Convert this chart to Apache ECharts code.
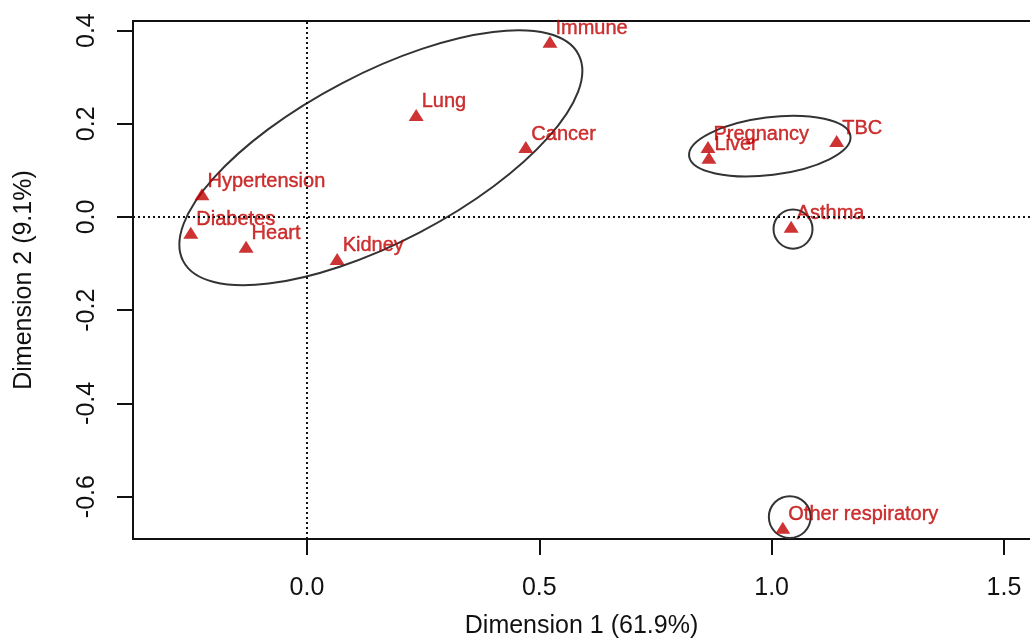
<!DOCTYPE html>
<html>
<head>
<meta charset="utf-8">
<script src="https://cdn.jsdelivr.net/npm/echarts@6/dist/echarts.min.js"></script>
<style>
html,body{margin:0;padding:0;background:#fff;}
#chart{width:1030px;height:641px;}
</style>
</head>
<body>
<div id="chart"></div>
<script>
// Category labels and coordinates (Dimension 1, Dimension 2)
const names = ['Immune','Lung','Cancer','Hypertension','Diabetes','Heart','Kidney','Pregnancy','Liver','TBC','Asthma','Other respiratory'];
const dim1  = [0.523, 0.235, 0.471, -0.226, -0.250, -0.131, 0.065, 0.863, 0.865, 1.140, 1.042, 1.024];
const dim2  = [0.376, 0.219, 0.150, 0.049, -0.034, -0.064, -0.090, 0.150, 0.127, 0.163, -0.021, -0.667];

// Cluster ellipses (centre, semi-axes in Dimension-1 units, tilt in degrees)
const ellCx    = [0.159, 0.996, 1.046, 1.039];
const ellCy    = [0.127, 0.152, -0.026, -0.644];
const ellA     = [0.480, 0.175, 0.042, 0.045];
const ellB     = [0.181, 0.062, 0.042, 0.045];
const ellAngle = [27.6, 7.1, 0, 0];

// Tick values
const xTicks = [0.0, 0.5, 1.0, 1.5];
const yTicks = [-0.6, -0.4, -0.2, 0.0, 0.2, 0.4];

const FONT = 'Liberation Sans, Arial, sans-serif';
const RED = '#c00000';

const points = names.map((n, i) => ({ name: n, value: [dim1[i], dim2[i]] }));
const ellipses = ellCx.map((c, i) => [c, ellCy[i], ellA[i], ellB[i], ellAngle[i]]);

const chart = echarts.init(document.getElementById('chart'), null, { renderer: 'canvas' });
const xMin = -0.3744, xMax = 1.556, yMin = -0.691, yMax = 0.4206;

chart.setOption({
  animation: false,
  backgroundColor: '#fff',
  grid: { left: 133, right: 0, top: 21, bottom: 102, containLabel: false, outerBoundsMode: 'none' },
  xAxis: [{
    type: 'value', min: xMin, max: xMax, position: 'bottom',
    name: 'Dimension 1 (61.9%)', nameLocation: 'middle', nameGap: 75,
    nameTextStyle: { fontFamily: FONT, fontSize: 25, color: '#111' },
    axisLine: { show: true, onZero: false, lineStyle: { color: '#111', width: 2 } },
    axisTick: { show: true, customValues: xTicks, length: 16, lineStyle: { color: '#111', width: 2 } },
    axisLabel: { customValues: xTicks, formatter: v => v.toFixed(1), fontFamily: FONT, fontSize: 25, color: '#111', margin: 37 },
    splitLine: { show: false }
  }, {
    type: 'value', min: xMin, max: xMax, position: 'top',
    axisLine: { show: true, onZero: false, lineStyle: { color: '#111', width: 2 } },
    axisTick: { show: false }, axisLabel: { show: false }, splitLine: { show: false }
  }],
  yAxis: {
    type: 'value', min: yMin, max: yMax,
    name: 'Dimension 2 (9.1%)', nameLocation: 'middle', nameGap: 96,
    nameTextStyle: { fontFamily: FONT, fontSize: 25, color: '#111' },
    axisLine: { show: true, onZero: false, lineStyle: { color: '#111', width: 2 } },
    axisTick: { show: true, customValues: yTicks, length: 16, lineStyle: { color: '#111', width: 2 } },
    axisLabel: { customValues: yTicks, formatter: v => v.toFixed(1), rotate: 90, fontFamily: FONT, fontSize: 25, color: '#111', margin: 33 },
    splitLine: { show: false }
  },
  series: [{
    type: 'scatter',
    data: points,
    symbol: 'triangle',
    symbolSize: [15, 12],
    itemStyle: { color: RED },
    label: {
      show: true, formatter: '{b}', position: 'right', distance: 0, offset: [-2, -13],
      fontFamily: FONT, fontSize: 20, color: RED,
      textBorderColor: RED, textBorderWidth: 0.4
    },
    markLine: {
      silent: true, symbol: 'none', label: { show: false },
      lineStyle: { color: '#111', type: [2, 3], width: 2 },
      data: [{ xAxis: 0 }, { yAxis: 0 }]
    },
    z: 3
  }, {
    type: 'custom',
    data: ellipses,
    silent: true,
    z: 2,
    encode: { x: 0, y: 1 },
    renderItem: function (params, api) {
      const c = api.coord([api.value(0), api.value(1)]);
      const rx = api.size([api.value(2), 0])[0];
      const ry = api.size([api.value(3), 0])[0];
      return {
        type: 'ellipse',
        x: c[0], y: c[1],
        rotation: api.value(4) * Math.PI / 180,
        shape: { cx: 0, cy: 0, rx: rx, ry: ry },
        style: { fill: 'none', stroke: '#333', lineWidth: 2 }
      };
    }
  }]
});
</script>
</body>
</html>
